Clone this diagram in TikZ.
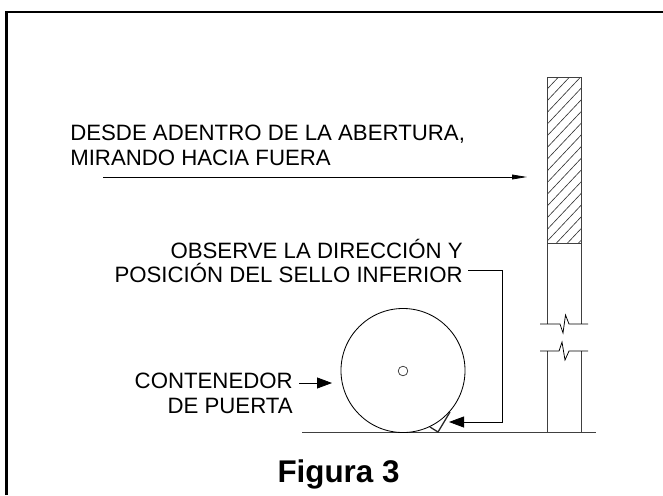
\documentclass[tikz,border=0pt]{standalone}
\usepackage{fontspec}
\setmainfont{Liberation Sans}
\usetikzlibrary{arrows.meta}
\tikzset{lbl/.style={inner sep=0,align=right,font=\fontsize{15.8}{17.7}\selectfont}}
\tikzset{wall/.style={black!75,line width=.7pt}}
\tikzset{lead/.style={black,line width=.55pt}}
\tikzset{bighead/.style={-{Triangle[length=.375cm,width=.275cm]}}}
\begin{document}
\begin{tikzpicture}[x=.025cm,y=-.025cm]
\useasboundingbox (0,0) rectangle (663,495);
\draw[black,line width=2.1pt] (6.5,495)--(6.5,12)--(663,12);

% wall
\begin{scope}
\clip (547.5,77) rectangle (581.5,243);
\foreach \y in {77,88.7,...,280} {
  \draw[black!80,line width=.45pt] (547.5,\y)--++(34,-36);
}
\end{scope}
\draw[wall] (547.5,324)--(547.5,77)--(581.5,77)--(581.5,324);
\draw[wall] (547.5,351)--(547.5,432.5) (581.5,351)--(581.5,432.5);
\draw[wall] (547.5,243)--(581.5,243);
\draw[lead] (540,324)--(560,324)--(563,333)--(565.5,315)--(569,324)--(588,324);
\draw[lead] (540,351)--(559,351)--(562,342)--(565,360)--(569,351)--(588,351);
\draw[wall,line width=.8pt] (302,432.5)--(596,432.5);

% texts
\node[lbl,anchor=west,align=left] (desde) at (70,145) {DESDE ADENTRO DE LA ABERTURA,\\MIRANDO HACIA FUERA};
\coordinate (desdea) at (103,177);
\coordinate (desdeb) at (527,177);
\draw[lead,-{Triangle[length=.375cm,width=.12cm]}] (desdea)--(desdeb);

\node[lbl,anchor=east] (obs) at (463,261) {OBSERVE LA DIRECCIÓN Y\\POSICIÓN DEL SELLO INFERIOR};
\coordinate (obsa) at (468,270);
\coordinate (sello) at (449,422);
\draw[lead,bighead] (obsa)--(502,270)--(502,422)--(sello);

\node[lbl,anchor=east] (cont) at (293,393.5) {CONTENEDOR\\DE PUERTA};
\coordinate (conta) at (299,383);
\coordinate (contb) at (332,383);
\draw[lead,bighead] (conta)--(contb);

% roller
\node[draw,circle,black,line width=.6pt,minimum size=3.1cm,inner sep=0] (roller) at (403,370.5) {};
\node[draw,circle,black!80,line width=.5pt,minimum size=.24cm,inner sep=0] (hub) at (403,371) {};
\draw[black!85,line width=.9pt] (430,427)--(438,432)--(450,412);

\node[inner sep=0,font=\bfseries\fontsize{22.3}{26}\selectfont] (fig) at (338.5,474) {Figura 3};
\end{tikzpicture}
\end{document}
